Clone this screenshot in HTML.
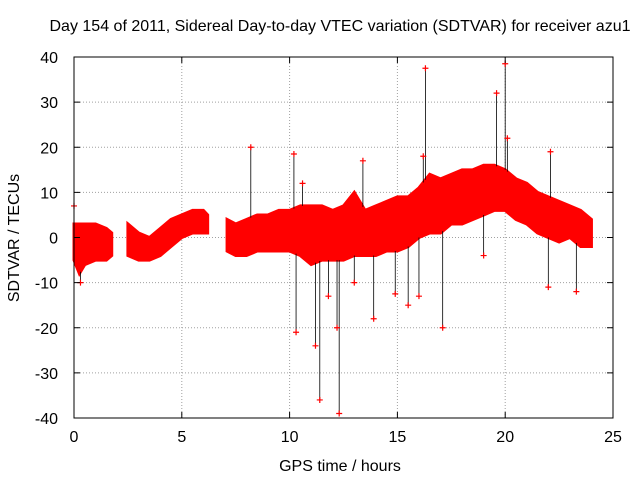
<!DOCTYPE html>
<html><head><meta charset="utf-8"><style>
body{margin:0;background:#fff}
svg{display:block;font-family:"Liberation Sans",sans-serif;font-size:16px}
</style></head><body>
<svg id="chart" width="640" height="480">
<text x="340" y="31" text-anchor="middle">Day 154 of 2011, Sidereal Day-to-day VTEC variation (SDTVAR) for receiver azu1</text>
<text x="340" y="471" text-anchor="middle">GPS time / hours</text>
<text transform="translate(19,238) rotate(-90)" text-anchor="middle">SDTVAR / TECUs</text>
<g id="grid"></g><g id="marks"></g><g id="axes"></g>
</svg>
<script>
const times=[0,0.25,0.5,1,1.5,1.75,2.5,3,3.5,4,4.5,5,5.5,6,6.2,7.1,7.5,8,8.5,9,9.5,10,10.5,11,11.5,12,12.5,13,13.5,14,14.5,15,15.5,16,16.5,17,17.5,18,18.5,19,19.5,20,20.5,21,21.5,22,22.5,23,23.5,24];
const lows=[-5,-8,-6,-5,-5,-4,-4,-5,-5,-4,-2,0,1,1,1,-3,-4,-4,-3,-3,-3,-3,-4,-6,-5,-5,-5,-4,-4,-4,-3,-3,-2,0,1,1,3,3,4,5,6,6,4,3,1,0,-1,0,-2,-2];
const highs=[3,3,3,3,2,1,3,1,0,2,4,5,6,6,5,4,3,4,5,5,6,6,7,7,7,6,7,10,6,7,8,9,9,11,14,13,14,15,15,16,16,15,13,12,10,9,8,7,6,4];
const outT=[0,0.3,8.2,10.2,10.3,10.6,11.2,11.4,12.3,12.2,13.4,13.9,14.9,15.5,16.0,16.3,17.1,19.6,20.0,20.1,22.0,23.3,11.8,16.2,22.1,13.0,19.0];
const outV=[7,-10,20,18.5,-21,12,-24,-36,-39,-20,17,-18,-12.5,-15,-13,37.5,-20,32,38.5,22,-11,-12,-13,18,19,-10,-4];
const xTicks=[0,5,10,15,20,25];
const yTicks=[-40,-30,-20,-10,0,10,20,30,40];
const X0=74,X1=613,Y0=418,Y1=57;
const xs=v=>X0+(v-0)/25*(X1-X0);
const ys=v=>Y0-(v+40)/80*(Y0-Y1);
const NS="http://www.w3.org/2000/svg";
function mk(t,a,p){const e=document.createElementNS(NS,t);for(const k in a)e.setAttribute(k,a[k]);p.appendChild(e);return e;}
const grid=document.getElementById('grid'),marks=document.getElementById('marks'),axes=document.getElementById('axes');
xTicks.forEach(t=>{
 const l=mk('line',{x1:xs(t),x2:xs(t),y1:Y0,y2:Y1,stroke:'#a0a0a0','stroke-dasharray':'1,2'},grid);
 
 
 const tx=mk('text',{x:xs(t),y:Y0+24,'text-anchor':'middle'},axes);tx.textContent=t;
 
 
 mk('line',{x1:xs(t),x2:xs(t),y1:Y0,y2:Y0-6,stroke:'#000'},axes);
 mk('line',{x1:xs(t),x2:xs(t),y1:Y1,y2:Y1+6,stroke:'#000'},axes);
});
yTicks.forEach(t=>{
 const l=mk('line',{x1:X0,x2:X1,y1:ys(t),y2:ys(t),stroke:'#a0a0a0','stroke-dasharray':'1,2'},grid);
 
 
 const tx=mk('text',{x:X0-16,y:ys(t)+6,'text-anchor':'end'},axes);tx.textContent=t;
 
 
 mk('line',{x1:X0,x2:X0+6,y1:ys(t),y2:ys(t),stroke:'#000'},axes);
 mk('line',{x1:X1,x2:X1-6,y1:ys(t),y2:ys(t),stroke:'#000'},axes);
});
const b=mk('rect',{x:X0,y:Y1,width:X1-X0,height:Y0-Y1,fill:'none',stroke:'#000'},axes);


let seg=[0];
for(let i=1;i<=times.length;i++){
 if(i===times.length||times[i]-times[i-1]>0.5){
  const top=seg.map(j=>xs(times[j])+','+ys(highs[j]));
  const bot=seg.slice().reverse().map(j=>xs(times[j])+','+ys(lows[j]));
  const p=mk('polygon',{points:top.concat(bot).join(' '),fill:'#ff0000',stroke:'#ff0000','stroke-width':3},marks);
  
  
  seg=[i];
 } else seg.push(i);
}
function interp(arr,t){for(let i=1;i<times.length;i++){if(t<=times[i]){const f=(t-times[i-1])/(times[i]-times[i-1]);return arr[i-1]+f*(arr[i]-arr[i-1]);}}return arr[arr.length-1];}
outT.forEach((t,i)=>{
 const v=outV[i];const edge=v>0?interp(highs,t):interp(lows,t);
 mk('line',{x1:xs(t),x2:xs(t),y1:ys(v),y2:ys(edge),stroke:'#000','stroke-width':0.8},marks);
 const g=mk('path',{d:`M${xs(t)-3},${ys(v)}h6M${xs(t)},${ys(v)-3}v6`,stroke:'#ff0000','stroke-width':1.2},marks);
 
 
});
</script>
</body></html>
